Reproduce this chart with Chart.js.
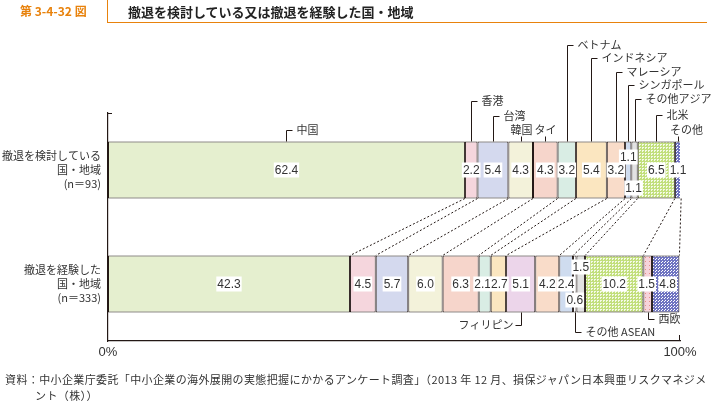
<!DOCTYPE html>
<html><head><meta charset="utf-8">
<script src="https://cdn.jsdelivr.net/npm/chart.js@4/dist/chart.umd.min.js"></script>
<style>
body{margin:0;background:#fff;}
#wrap{position:relative;width:711px;height:401px;overflow:hidden;font-family:"Noto Sans CJK JP",sans-serif;color:#333;}
#c{position:absolute;left:0;top:0;}
.num{position:absolute;left:20px;top:3px;color:#e8820c;font-weight:bold;font-size:12px;line-height:16px;}
.vline{position:absolute;left:107px;top:0;width:1px;height:23px;background:#e8820c;}
.hline{position:absolute;left:107px;top:22px;width:600px;height:1px;background:#e8820c;}
.title{position:absolute;left:128px;top:3px;font-size:13px;font-weight:bold;line-height:18px;color:#222;}
.note{position:absolute;left:5px;font-size:11px;line-height:16px;color:#333;white-space:nowrap;letter-spacing:0.38px;}
</style></head>
<body><div id="wrap">
<canvas id="c" width="711" height="401"></canvas>
<div class="num">第 3-4-32 図</div>
<div class="vline"></div><div class="hline"></div>
<div class="title">撤退を検討している又は撤退を経験した国・地域</div>
<div class="note" style="top:371px">資料：中小企業庁委託「中小企業の海外展開の実態把握にかかるアンケート調査」（2013 年 12 月、損保ジャパン日本興亜リスクマネジメ</div>
<div class="note" style="top:387px;left:35px">ント（株））</div>
</div>
<script>
// ---- data ----
const rowLabels = [['撤退を検討している','国・地域','(n＝93)'], ['撤退を経験した','国・地域','(n＝333)']];
const countries = ['中国','香港','台湾','韓国','タイ','ベトナム','インドネシア','フィリピン','マレーシア','シンガポール','その他 ASEAN','その他アジア','北米','西欧','その他'];
const consideredShares  = [62.4, 2.2, 5.4, 4.3, 4.3, 3.2, 5.4, null, 3.2, 1.1, null, 1.1, 6.5, null, 1.1];
const experiencedShares = [42.3, 4.5, 5.7, 6.0, 6.3, 2.1, 2.7, 5.1, 4.2, 2.4, 0.6, 1.5, 10.2, 1.5, 4.8];
const xTickLabels = ['0%', '100%'];

// ---- styles / layout ----
const canvas = document.getElementById('c');
const ctx0 = canvas.getContext('2d');
function makePattern(bg, fg, size, dots){
  const c = document.createElement('canvas'); c.width = c.height = size;
  const g = c.getContext('2d'); g.fillStyle = bg; g.fillRect(0,0,size,size);
  g.fillStyle = fg; dots.forEach(d => g.fillRect(d[0], d[1], 1, 1));
  return ctx0.createPattern(c, 'repeat');
}
const patGreen = makePattern('#c2df7c', '#f4fae6', 3, [[0,0],[1,0],[0,1]]);
const patPink  = makePattern('#f6d3da', '#e58f86', 4, [[1,1]]);
const patBlue  = makePattern('#6f74c2', '#ffffff', 3, [[1,1],[2,0]]);
const fills = ['#e5efcf','#f5d6dd','#d4d9ee','#f3f2da','#f6d5cb','#d9ede4','#fbe6c0','#ecd5ea','#f9dcc9','#cfdcef','#ffffff','#e2e2e2', patGreen, patPink, patBlue];
const INK = '#231815', TXT = '#333333';
const valueFont = '12px "Liberation Sans Narrow", "Liberation Sans", sans-serif';
const jpFont = '11px "Noto Sans CJK JP", sans-serif';

// callouts: elbow lines to text (top row above bar, bottom row below bar)
const callouts = [
  { 0:{y:130}, 1:{y:101}, 2:{y:116}, 3:{above:true}, 4:{above:true}, 5:{y:45}, 6:{y:58},
    8:{y:72}, 9:{y:85}, 11:{y:99}, 12:{y:115}, 14:{above:true, dx:8} },
  { 7:{y:325, left:true}, 10:{y:332}, 13:{y:319} }
];
// value label nudges [dx, dy]
const valueOffsets = [ {9:[0,-13], 11:[-1,18]}, {5:[-2,0], 6:[1,0], 11:[0,-17], 10:[0,16], 13:[-1,0], 14:[2,0]} ];

const datasets = countries.map((name, i) => ({
  label: name,
  data: [consideredShares[i], experiencedShares[i]],
  backgroundColor: fills[i],
  borderColor: INK, borderWidth: 1, borderSkipped: false,
  categoryPercentage: 1, barPercentage: 0.5
}));

const overlay = {
  id: 'overlay',
  afterDatasetsDraw(chart){
    const ctx = chart.ctx, ca = chart.chartArea;
    const metas = chart.data.datasets.map((d, i) => chart.getDatasetMeta(i));
    ctx.save();
    // axis end ticks
    ctx.strokeStyle = INK; ctx.lineWidth = 1;
    ctx.beginPath(); ctx.moveTo(ca.left, ca.top + 0.5); ctx.lineTo(ca.left + 4, ca.top + 0.5);
    ctx.moveTo(Math.round(ca.right) - 0.5, ca.bottom); ctx.lineTo(Math.round(ca.right) - 0.5, ca.bottom - 6); ctx.stroke();
    // dashed connectors between the two bars
    ctx.setLineDash([2, 2]);
    ctx.beginPath();
    metas.forEach(m => {
      const a = m.data[0], b = m.data[1];
      if (consideredShares[m.index] == null || experiencedShares[m.index] == null) return;
      ctx.moveTo(a.x, a.y + a.height / 2); ctx.lineTo(b.x, b.y - b.height / 2);
    });
    ctx.stroke();
    ctx.setLineDash([]);
    // callouts
    ctx.font = jpFont; ctx.fillStyle = TXT; ctx.textBaseline = 'middle';
    [0, 1].forEach(row => {
      Object.keys(callouts[row]).forEach(k => {
        const i = +k, c = callouts[row][k], el = metas[i].data[row];
        const cx = Math.round((el.x + el.base) / 2) + 0.5;
        const edge = row === 0 ? el.y - el.height / 2 : el.y + el.height / 2;
        ctx.beginPath();
        if (c.above) {
          ctx.moveTo(cx, edge); ctx.lineTo(cx, edge - 5); ctx.stroke();
          ctx.textAlign = 'center'; ctx.fillText(countries[i], cx + (c.dx || 0), edge - 12);
        } else if (c.left) {
          ctx.moveTo(cx, edge); ctx.lineTo(cx, c.y + 0.5); ctx.lineTo(cx - 6, c.y + 0.5); ctx.stroke();
          ctx.textAlign = 'right'; ctx.fillText(countries[i], cx - 8, c.y);
        } else {
          ctx.moveTo(cx, edge); ctx.lineTo(cx, c.y + 0.5); ctx.lineTo(cx + 6, c.y + 0.5); ctx.stroke();
          ctx.textAlign = 'left'; ctx.fillText(countries[i], cx + 10, c.y);
        }
      });
    });
    // value labels
    ctx.font = valueFont; ctx.textAlign = 'center';
    metas.forEach(m => {
      [0, 1].forEach(row => {
        const v = chart.data.datasets[m.index].data[row];
        if (v == null) return;
        const el = m.data[row];
        const off = valueOffsets[row][m.index] || [0, 0];
        const cx = (el.x + el.base) / 2 + off[0], cy = el.y + off[1];
        const txt = v.toFixed(1), w = ctx.measureText(txt).width;
        ctx.fillStyle = '#ffffff'; ctx.fillRect(cx - w / 2 - 1, cy - 7.5, w + 2, 15);
        ctx.fillStyle = TXT; ctx.fillText(txt, cx, cy + 0.5);
      });
    });
    ctx.restore();
  }
};

new Chart(canvas, {
  type: 'bar',
  data: { labels: rowLabels, datasets },
  options: {
    indexAxis: 'y', responsive: false, animation: false, devicePixelRatio: 1,
    layout: { padding: { left: 0, top: 113, right: 31, bottom: 40 } },
    plugins: { legend: { display: false }, tooltip: { enabled: false } },
    scales: {
      x: { stacked: true, min: 0, max: 100,
        grid: { display: false, drawTicks: false },
        border: { display: true, color: INK, width: 1.2 },
        afterBuildTicks: s => { s.ticks = [{ value: 0 }, { value: 100 }]; },
        ticks: { padding: 4, color: TXT, font: { family: '"Liberation Sans Narrow", "Liberation Sans", sans-serif', size: 13 },
          maxRotation: 0, callback: (v, i) => xTickLabels[i] },
        afterFit: s => { s.height = 20; } },
      y: { stacked: true,
        grid: { display: false, drawTicks: false },
        border: { display: true, color: INK, width: 1.2 },
        ticks: { padding: 7, color: TXT, font: { family: '"Noto Sans CJK JP", sans-serif', size: 11, lineHeight: 1.25 } },
        afterFit: s => { s.width = 108; } }
    }
  },
  plugins: [overlay]
});
</script>
</body></html>
